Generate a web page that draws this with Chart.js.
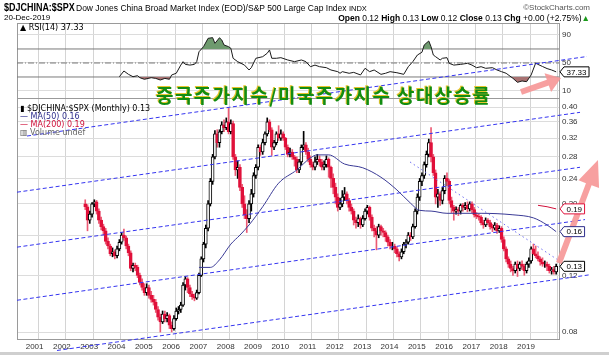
<!DOCTYPE html>
<html><head><meta charset="utf-8">
<script src="https://cdn.jsdelivr.net/npm/chart.js@4.4.1/dist/chart.umd.min.js"></script>
<style>
body{margin:0;background:#fff;width:609px;height:355px;overflow:hidden;position:relative;font-family:'Liberation Sans',Arial,sans-serif;}
#c{position:absolute;left:0;top:0;}
.t{position:absolute;white-space:nowrap;color:#000;line-height:1;}
.lg{font-family:'DejaVu Sans',sans-serif;font-size:8px;}
</style></head><body>
<canvas id="c" width="609" height="355"></canvas>
<div class="t" style="left:4px;top:2px;font-weight:bold;font-size:11.5px;transform:scaleX(0.78);transform-origin:0 0;">$DJCHINA:$SPX</div>
<div class="t" style="left:76px;top:4px;font-size:8.5px;">Dow Jones China Broad Market Index (EOD)/S&amp;P 500 Large Cap Index <span style="font-size:7.5px">INDX</span></div>
<div class="t" style="right:19px;top:4px;font-size:8px;color:#555">©StockCharts.com</div>
<div class="t" style="left:4px;top:14px;font-size:8px;">20-Dec-2019</div>
<div class="t" id="ohlc" style="right:19px;top:13.5px;font-size:8.5px;"></div>
<div class="t lg" id="rsiLg" style="left:20px;top:24px;"></div>
<div class="t lg" id="lg1" style="left:20px;top:105px;"></div>
<div class="t lg" id="lg2" style="left:20px;top:113px;color:#2e2e8c"></div>
<div class="t lg" id="lg3" style="left:20px;top:121px;color:#d0103a"></div>
<div class="t lg" style="left:20px;top:129px;color:#666">▥ Volume undef</div>
<div class="t" style="left:156px;top:85px;font-family:'Noto Sans CJK KR';font-weight:700;font-size:19px;letter-spacing:1.4px;line-height:20px;color:#128c12;text-shadow:-1px -1px 0 #e6c42c;">중국주가지수/미국주가지수 상대상승률</div>
<div style="position:absolute;left:0;top:352px;width:609px;height:3px;background:#cfcfcf"></div>
<script>
// ---------- DATA ----------
const firstYear = 2002, firstMonth = 9; // first monthly candle: Sep 2002
const opens = [
 0.200,0.196,0.178,0.186,
 0.200,0.203,0.190,0.178,0.170,0.165,0.153,0.148,0.140,0.142,0.138,0.145,
 0.152,0.160,0.157,0.148,0.141,0.126,0.129,0.127,0.120,0.114,0.110,0.106,
 0.110,0.104,0.101,0.099,0.094,0.089,0.086,0.091,0.088,0.090,0.084,0.082,
 0.088,0.093,0.094,0.097,0.112,0.117,0.110,0.105,0.103,0.102,0.106,0.120,
 0.135,0.150,0.168,0.200,0.235,0.280,0.330,0.310,0.335,0.352,0.345,0.360,
 0.335,0.355,0.280,0.255,0.260,0.225,0.200,0.185,0.180,0.200,0.215,0.245,
 0.260,0.300,0.290,0.310,0.330,0.360,0.340,0.300,0.310,0.330,0.320,0.330,
 0.320,0.300,0.285,0.290,0.280,0.275,0.255,0.270,0.300,0.305,0.290,0.275,
 0.265,0.260,0.270,0.275,0.270,0.260,0.265,0.275,0.260,0.240,0.225,0.210,
 0.195,0.200,0.210,0.215,0.205,0.195,0.190,0.178,0.175,0.180,0.172,0.180,
 0.190,0.195,0.182,0.168,0.165,0.160,0.170,0.165,0.163,0.158,0.152,0.148,
 0.148,0.145,0.140,0.137,0.142,0.150,0.152,0.160,0.158,0.170,0.190,0.210,
 0.235,0.245,0.265,0.285,0.310,0.280,0.250,0.210,0.215,0.205,0.220,0.240,
 0.235,0.205,0.195,0.190,0.192,0.190,0.198,0.195,0.198,0.193,0.200,0.192,
 0.185,0.183,0.182,0.175,0.172,0.178,0.175,0.170,0.168,0.172,0.165,0.168,
 0.155,0.145,0.135,0.130,0.126,0.124,0.130,0.126,0.130,0.128,0.124,0.130,
 0.133,0.145,0.140,0.138,0.135,0.132,0.130,0.130,0.128,0.124,0.125,0.123];
const highs = [
 0.206,0.199,0.190,0.202,
 0.206,0.205,0.193,0.182,0.173,0.168,0.157,0.150,0.146,0.144,0.148,0.155,
 0.163,0.167,0.159,0.150,0.143,0.131,0.131,0.129,0.122,0.117,0.113,0.113,
 0.112,0.107,0.104,0.101,0.096,0.091,0.093,0.093,0.092,0.091,0.086,0.090,
 0.095,0.096,0.099,0.114,0.119,0.118,0.112,0.107,0.105,0.108,0.122,0.137,
 0.152,0.172,0.205,0.240,0.285,0.338,0.340,0.340,0.360,0.365,0.370,0.396,
 0.365,0.362,0.285,0.272,0.265,0.230,0.212,0.192,0.205,0.222,0.250,0.265,
 0.305,0.305,0.318,0.335,0.370,0.365,0.345,0.315,0.335,0.350,0.340,0.335,
 0.322,0.305,0.298,0.295,0.283,0.280,0.275,0.305,0.336,0.310,0.298,0.282,
 0.270,0.280,0.285,0.282,0.275,0.272,0.282,0.278,0.262,0.248,0.232,0.215,
 0.208,0.220,0.225,0.218,0.208,0.200,0.193,0.182,0.185,0.182,0.184,0.193,
 0.198,0.197,0.185,0.172,0.170,0.173,0.172,0.168,0.165,0.160,0.155,0.152,
 0.150,0.147,0.142,0.145,0.152,0.155,0.163,0.163,0.173,0.193,0.215,0.240,
 0.250,0.270,0.292,0.318,0.345,0.285,0.255,0.222,0.218,0.225,0.245,0.250,
 0.238,0.210,0.198,0.196,0.195,0.200,0.201,0.202,0.203,0.203,0.203,0.195,
 0.188,0.186,0.184,0.178,0.181,0.180,0.178,0.173,0.175,0.174,0.171,0.170,
 0.158,0.147,0.137,0.133,0.128,0.132,0.133,0.132,0.133,0.130,0.132,0.136,
 0.147,0.150,0.148,0.142,0.137,0.136,0.133,0.132,0.130,0.127,0.128,0.130];
const lows = [
 0.192,0.165,0.174,0.182,
 0.196,0.186,0.174,0.166,0.160,0.150,0.145,0.138,0.137,0.135,0.136,0.143,
 0.150,0.154,0.145,0.138,0.124,0.123,0.124,0.118,0.112,0.108,0.104,0.104,
 0.102,0.099,0.097,0.092,0.087,0.080,0.085,0.086,0.086,0.082,0.080,0.081,
 0.087,0.091,0.092,0.096,0.108,0.106,0.103,0.101,0.100,0.101,0.105,0.119,
 0.132,0.146,0.165,0.197,0.230,0.276,0.300,0.300,0.330,0.335,0.340,0.330,
 0.330,0.275,0.245,0.240,0.220,0.195,0.180,0.163,0.175,0.190,0.210,0.240,
 0.255,0.283,0.285,0.305,0.325,0.335,0.283,0.295,0.305,0.315,0.315,0.315,
 0.295,0.280,0.280,0.275,0.262,0.250,0.250,0.265,0.295,0.285,0.270,0.260,
 0.255,0.255,0.265,0.262,0.255,0.255,0.260,0.242,0.225,0.215,0.200,0.190,
 0.192,0.196,0.205,0.200,0.190,0.186,0.172,0.168,0.170,0.168,0.170,0.178,
 0.186,0.178,0.165,0.158,0.144,0.157,0.160,0.158,0.153,0.148,0.145,0.144,
 0.141,0.137,0.133,0.135,0.140,0.146,0.150,0.154,0.156,0.168,0.186,0.205,
 0.228,0.240,0.260,0.280,0.270,0.245,0.200,0.195,0.198,0.200,0.215,0.228,
 0.200,0.188,0.178,0.186,0.184,0.186,0.190,0.192,0.189,0.190,0.188,0.182,
 0.180,0.178,0.172,0.168,0.170,0.172,0.167,0.164,0.166,0.162,0.163,0.152,
 0.143,0.132,0.127,0.123,0.120,0.122,0.119,0.124,0.125,0.120,0.122,0.127,
 0.131,0.139,0.136,0.133,0.129,0.128,0.127,0.124,0.122,0.121,0.121,0.121];
const closes = [
 0.196,0.178,0.186,0.200,
 0.203,0.190,0.178,0.170,0.165,0.153,0.148,0.140,0.142,0.138,0.145,0.152,
 0.160,0.157,0.148,0.141,0.126,0.129,0.127,0.120,0.114,0.110,0.106,0.110,
 0.104,0.101,0.099,0.094,0.089,0.086,0.091,0.088,0.090,0.084,0.082,0.088,
 0.093,0.094,0.097,0.112,0.117,0.110,0.105,0.103,0.102,0.106,0.120,0.135,
 0.150,0.168,0.200,0.235,0.280,0.330,0.310,0.335,0.352,0.345,0.360,0.335,
 0.355,0.280,0.255,0.260,0.225,0.200,0.185,0.180,0.200,0.215,0.245,0.260,
 0.300,0.290,0.310,0.330,0.360,0.340,0.300,0.310,0.330,0.320,0.330,0.320,
 0.300,0.285,0.290,0.280,0.275,0.255,0.270,0.300,0.305,0.290,0.275,0.265,
 0.260,0.270,0.275,0.270,0.260,0.265,0.275,0.260,0.240,0.225,0.210,0.195,
 0.200,0.210,0.215,0.205,0.195,0.190,0.178,0.175,0.180,0.172,0.180,0.190,
 0.195,0.182,0.168,0.165,0.160,0.170,0.165,0.163,0.158,0.152,0.148,0.148,
 0.145,0.140,0.137,0.142,0.150,0.152,0.160,0.158,0.170,0.190,0.210,0.235,
 0.245,0.265,0.285,0.310,0.280,0.250,0.210,0.215,0.205,0.220,0.240,0.235,
 0.205,0.195,0.190,0.192,0.190,0.198,0.195,0.198,0.193,0.200,0.192,0.185,
 0.183,0.182,0.175,0.172,0.178,0.175,0.170,0.168,0.172,0.165,0.168,0.155,
 0.145,0.135,0.130,0.126,0.124,0.130,0.126,0.130,0.128,0.124,0.130,0.133,
 0.145,0.140,0.138,0.135,0.132,0.130,0.130,0.128,0.124,0.125,0.123,0.128];

const ma50Dates  = ['2006-11','2007-04','2007-08','2008-01','2008-05','2008-09','2009-03','2009-10','2010-06','2010-12','2011-03','2011-08','2012-03','2012-11','2013-07','2014-02','2014-08','2014-12','2015-05','2015-12','2017-03','2018-05','2019-02','2019-08','2019-12'];
const ma50Values = [0.127,0.127,0.134,0.150,0.160,0.172,0.196,0.232,0.255,0.278,0.284,0.284,0.266,0.259,0.242,0.221,0.201,0.191,0.190,0.187,0.187,0.185,0.181,0.172,0.164];
const ma200Dates  = ['2019-04','2019-08','2019-12'];
const ma200Values = [0.198,0.196,0.193];

const rsiDates = ['2003-12','2004-02','2004-04','2004-06','2004-08','2004-09','2004-11','2005-02','2005-04','2005-06','2005-08','2005-10','2005-11','2006-01','2006-03','2006-04','2006-05','2006-07','2006-09','2006-10','2006-11','2007-01','2007-03','2007-05','2007-06','2007-08','2007-09','2007-10','2007-12','2008-01','2008-02','2008-04','2008-07','2008-09','2008-10','2008-12','2009-03','2009-05','2009-06','2009-07','2009-09','2009-11','2010-02','2010-05','2010-08','2010-10','2010-12','2011-02','2011-04','2011-07','2011-09','2011-12','2012-01','2012-02','2012-05','2012-07','2012-10','2012-12','2013-02','2013-04','2013-07','2013-09','2013-11','2014-02','2014-05','2014-07','2014-09','2014-11','2015-01','2015-02','2015-04','2015-05','2015-06','2015-07','2015-09','2015-10','2015-12','2016-01','2016-03','2016-06','2016-09','2016-11','2017-01','2017-03','2017-05','2017-08','2017-10','2017-12','2018-02','2018-05','2018-07','2018-09','2018-11','2019-01','2019-03','2019-04','2019-06','2019-08','2019-10','2019-12'];
const rsiValues = [30.4,38.6,33.8,30.4,31.9,29,26.7,29,28,25.7,28,26.7,32.9,35.3,47,51.9,48,47,48,51.9,66,73.3,85.2,86.2,78,86,82.9,75.7,73.3,71,56.7,51.9,47,40,43.3,56.7,59,63.9,68.6,56.7,56.7,57.6,54.3,51.9,54.3,51.9,44.7,47,44.7,43.3,40,37.6,35.3,37.6,35.3,36.6,32.9,42.4,37.6,40,33.8,35.3,37.6,36.1,33.8,44.7,51.9,61.4,65.3,75.7,81.4,73.3,61.4,59,54.3,56.7,57.6,49.5,47,48,49.5,47,43.3,44.7,42.4,43.3,40,37.6,35.3,28.1,22.4,24.3,23.3,32.9,50,48,45,42,40,37.33];
const rsiLevels = [30, 50, 70];

// trend channel lines (decimal year, price)
const chanX1 = [2000.575, 2000.209, 2000.209, 2000.209, 2001.674];
const chanY1 = [0.325, 0.2175, 0.1468, 0.1004, 0.0701];
const chanX2 = [2021.088, 2020.832, 2020.832, 2021.015, 2021.198];
const chanY2 = [0.574, 0.385, 0.2599, 0.1788, 0.1205];
const downX = [2014.604, 2020.027];
const downY = [0.270, 0.1339];

// annotation arrows: [x1,y1,x2,y2] in data units
const arrowRsi = [2018.67, 8.6, 2020.136, 28.6];
const arrowPrice = [2020.06, 0.131, 2021.49, 0.274];

const yearTicks = [2001,2002,2003,2004,2005,2006,2007,2008,2009,2010,2011,2012,2013,2014,2015,2016,2017,2018,2019,2020];
const yearLabels = ['2001','2002','2003','2004','2005','2006','2007','2008','2009','2010','2011','2012','2013','2014','2015','2016','2017','2018','2019',''];
const priceTicks = [0.08,0.10,0.12,0.14,0.16,0.18,0.20,0.22,0.24,0.26,0.28,0.30,0.32,0.34,0.36,0.38,0.40];
const rsiTicks = [10,30,50,70,90];

// ---------- helpers ----------
const xMin = 2000.209, xMax = 2020.062;
const yMin = 0.0761, yMax = 0.4266;
const rMin = 0, rMax = 107.1;
function monthPos(i){ return firstYear + (firstMonth - 1 + i) / 12 + 1/24; }
function datePos(s){ const p = s.split('-').map(Number); return p[0] + (p[1]-1)/12 + 1/24; }
const RED = '#e0103a', WICKRED = '#ec5a74';
const up = i => closes[i] >= opens[i];
const last = a => a[a.length-1];

document.getElementById('ohlc').innerHTML = '<b>Open</b> ' + last(opens).toFixed(2) + ' <b>High</b> ' + last(highs).toFixed(2) + ' <b>Low</b> ' + last(lows).toFixed(2) + ' <b>Close</b> ' + last(closes).toFixed(2) + ' <b>Chg</b> +0.00 (+2.75%)<span style="color:#1a9a1a">▲</span>';
document.getElementById('rsiLg').textContent = '▲ RSI(14) ' + last(rsiValues).toFixed(2);
document.getElementById('lg1').textContent = '▮ $DJCHINA:$SPX (Monthly) ' + last(closes).toFixed(2);
document.getElementById('lg2').textContent = '— MA(50) ' + last(ma50Values).toFixed(2);
document.getElementById('lg3').textContent = '— MA(200) ' + last(ma200Values).toFixed(2);

const candleX = closes.map((_, i) => monthPos(i));
const datasets = [];
datasets.push({type:'line', data: ma50Dates.map((d,i)=>({x:datePos(d), y:ma50Values[i]})), yAxisID:'y', borderColor:'#3a3a96', borderWidth:1, pointRadius:0, cubicInterpolationMode:'monotone', order:0});
datasets.push({type:'line', data: ma200Dates.map((d,i)=>({x:datePos(d), y:ma200Values[i]})), yAxisID:'y', borderColor:'#d0103a', borderWidth:1, pointRadius:0, order:0});
chanX1.forEach((_, i) => datasets.push({type:'line', data:[{x:chanX1[i], y:chanY1[i]}, {x:chanX2[i], y:chanY2[i]}], yAxisID:'y', borderColor:'#3434f0', borderWidth:1, borderDash:[4,2.5], pointRadius:0, clip:false, order:0}));
datasets.push({type:'line', data:[{x:downX[0], y:downY[0]}, {x:downX[1], y:downY[1]}], yAxisID:'y', borderColor:'#6c6cf0', borderWidth:1, borderDash:[1.5,3], pointRadius:0, clip:false, order:0});
datasets.push({type:'bar', data: candleX.map((x,i)=>({x, y:[Math.min(opens[i],closes[i]), Math.max(opens[i],closes[i])]})), yAxisID:'y',
  backgroundColor: c => up(c.dataIndex) ? '#ffffff' : RED, borderColor: c => up(c.dataIndex) ? '#000000' : RED,
  borderWidth:1, borderSkipped:false, barThickness:3, grouped:false, order:1});
datasets.push({type:'bar', data: candleX.map((x,i)=>({x, y:[lows[i], highs[i]]})), yAxisID:'y',
  backgroundColor: c => up(c.dataIndex) ? '#000000' : WICKRED, borderWidth:0, barThickness:1, grouped:false, order:2});
const rsiPts = rsiDates.map((d,i)=>({x:datePos(d), y:rsiValues[i]}));
datasets.push({type:'line', data: rsiPts, yAxisID:'rsi', borderColor:'#1a1a1a', borderWidth:1, pointRadius:0,
  fill:{target:{value:70}, above:'#6e9a6e', below:'rgba(0,0,0,0)'}, order:0});
datasets.push({type:'line', data: rsiPts, yAxisID:'rsi', borderColor:'rgba(0,0,0,0)', borderWidth:0, pointRadius:0,
  fill:{target:{value:30}, above:'rgba(0,0,0,0)', below:'#a87272'}, order:0});
rsiLevels.forEach(l => datasets.push({type:'line', data:[{x:xMin,y:l},{x:xMax,y:l}], yAxisID:'rsi', borderColor:'#7a7a7a', borderWidth:1, borderDash: l===50 ? [6,2,1,2] : [], pointRadius:0, order:3}));

function tag(ctx, x, y, text, color){
  ctx.font = '8px "Liberation Sans"';
  const w = ctx.measureText(text).width + 5;
  ctx.beginPath(); ctx.moveTo(x, y); ctx.lineTo(x+4, y-5); ctx.lineTo(x+4+w, y-5); ctx.lineTo(x+4+w, y+5); ctx.lineTo(x+4, y+5); ctx.closePath();
  ctx.fillStyle = '#fff'; ctx.fill(); ctx.strokeStyle = color; ctx.lineWidth = 1; ctx.stroke();
  ctx.fillStyle = '#000'; ctx.textBaseline = 'middle'; ctx.textAlign = 'left'; ctx.fillText(text, x+6.5, y+0.5);
}
function arrow(ctx, x1, y1, x2, y2, shaft, headLen, headHalf){
  const dx = x2-x1, dy = y2-y1, L = Math.hypot(dx,dy), ux = dx/L, uy = dy/L, px = -uy, py = ux;
  const bx = x2 - ux*headLen, by = y2 - uy*headLen;
  ctx.beginPath();
  ctx.moveTo(x1 + px*shaft/2, y1 + py*shaft/2);
  ctx.lineTo(bx + px*shaft/2, by + py*shaft/2);
  ctx.lineTo(bx + px*headHalf, by + py*headHalf);
  ctx.lineTo(x2, y2);
  ctx.lineTo(bx - px*headHalf, by - py*headHalf);
  ctx.lineTo(bx - px*shaft/2, by - py*shaft/2);
  ctx.lineTo(x1 - px*shaft/2, y1 - py*shaft/2);
  ctx.closePath();
  ctx.fillStyle = 'rgba(246,150,150,0.9)'; ctx.fill();
}
const deco = {
  id:'deco',
  beforeDatasetsDraw(chart){
    const {ctx, chartArea:a, scales} = chart;
    ctx.save(); ctx.strokeStyle = '#9a9a9a'; ctx.lineWidth = 1;
    ctx.strokeRect(Math.round(a.left)+0.5, Math.round(a.top)+0.5, Math.round(a.right-a.left), Math.round(a.bottom-a.top));
    const yb = Math.round(scales.y.top)+0.5;
    ctx.beginPath(); ctx.moveTo(a.left, yb); ctx.lineTo(a.right, yb); ctx.stroke();
    ctx.restore();
  },
  afterDatasetsDraw(chart){
    const {ctx, chartArea:a, scales:{x, y, rsi}} = chart;
    ctx.save();
    arrow(ctx, x.getPixelForValue(arrowRsi[0]), rsi.getPixelForValue(arrowRsi[1]), x.getPixelForValue(arrowRsi[2]), rsi.getPixelForValue(arrowRsi[3]), 6, 14, 10);
    arrow(ctx, x.getPixelForValue(arrowPrice[0]), y.getPixelForValue(arrowPrice[1]), x.getPixelForValue(arrowPrice[2]), y.getPixelForValue(arrowPrice[3]), 6, 26, 11);
    tag(ctx, a.right+1, y.getPixelForValue(last(ma200Values)), last(ma200Values).toFixed(2), '#e0103a');
    tag(ctx, a.right+1, y.getPixelForValue(last(ma50Values)), last(ma50Values).toFixed(2), '#2e2e8c');
    tag(ctx, a.right+1, y.getPixelForValue(last(closes)), last(closes).toFixed(2), '#000');
    tag(ctx, a.right+1, rsi.getPixelForValue(last(rsiValues)), last(rsiValues).toFixed(2), '#000');
    ctx.restore();
  }
};
const tickFont = {family:'Liberation Sans', size:8};
new Chart(document.getElementById('c'), {
  type:'bar',
  data:{datasets},
  options:{
    responsive:false, animation:false, devicePixelRatio:1, events:[],
    layout:{autoPadding:false, padding:{left:17, top:23, right:0, bottom:0}},
    plugins:{legend:{display:false}, tooltip:{enabled:false}},
    scales:{
      x:{type:'linear', position:'bottom', min:xMin, max:xMax, offset:false,
        afterBuildTicks: s => { s.ticks = yearTicks.map(v => ({value:v})); },
        afterFit: s => { s.height = 16; },
        ticks:{autoSkip:false, maxRotation:0, font:tickFont, color:'#333', padding:3, labelOffset:-4, callback:(v,i)=>yearLabels[i]},
        grid:{color:'#d4d4d4', drawTicks:false, offset:false}, border:{color:'#999'}},
      rsi:{type:'linear', position:'right', stack:'panels', stackWeight:75, weight:0, min:rMin, max:rMax,
        afterBuildTicks: s => { s.ticks = rsiTicks.map(v => ({value:v})); },
        afterFit: s => { s.width = 50; },
        ticks:{font:tickFont, color:'#333', padding:3, callback:v=>String(v)},
        grid:{color:'#dcdcdc', drawTicks:false}, border:{color:'#999'}},
      y:{type:'logarithmic', position:'right', stack:'panels', stackWeight:241, weight:1, min:yMin, max:yMax,
        afterBuildTicks: s => { s.ticks = priceTicks.map(v => ({value:v})); },
        afterFit: s => { s.width = 50; },
        ticks:{font:tickFont, color:'#333', padding:3, callback:v=>Number(v).toFixed(2)},
        grid:{color:'#dcdcdc', drawTicks:false}, border:{color:'#999'}}
    }
  },
  plugins:[deco]
});
</script>
</body></html>
